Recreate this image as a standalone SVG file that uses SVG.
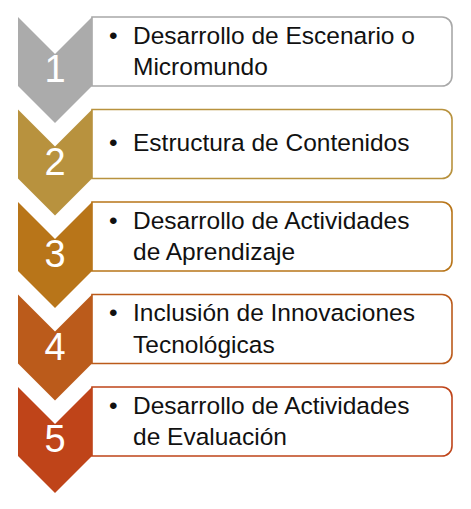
<svg xmlns="http://www.w3.org/2000/svg" width="471" height="509" viewBox="0 0 471 509">
<style>
.box{fill:#fff;stroke-width:1.6}
.txt{font-family:"Liberation Sans",Arial,sans-serif;font-size:24.5px;fill:#111}
.num{font-family:"Liberation Sans",Arial,sans-serif;font-size:38px;fill:#fff;text-anchor:middle}
</style>
<defs>
<path id="chev" d="M18 0 L55 37 L92 0 L92 69 L55 106 L18 69 Z"/>
<path id="boxp" d="M92 0 H442 A10 10 0 0 1 452 10 V59 A10 10 0 0 1 442 69 H92 Z"/>
</defs>
<rect width="471" height="509" fill="#fff"/>
<g id="node1" transform="translate(0,17)">
<use href="#boxp" class="box" stroke="#A8A8A8"/>
<use href="#chev" fill="#ABABAB"/>
<text class="num" x="55" y="65">1</text>
<text class="txt" x="109" y="26.5">•</text>
<text class="txt" x="133" y="26.5">Desarrollo de Escenario o</text>
<text class="txt" x="133" y="58">Micromundo</text>
</g>
<g id="node2" transform="translate(0,109.5)">
<use href="#boxp" class="box" stroke="#B8923E"/>
<use href="#chev" fill="#B8923E"/>
<text class="num" x="55" y="65">2</text>
<text class="txt" x="109" y="41">•</text>
<text class="txt" x="133" y="41">Estructura de Contenidos</text>
</g>
<g id="node3" transform="translate(0,202)">
<use href="#boxp" class="box" stroke="#B87519"/>
<use href="#chev" fill="#B87519"/>
<text class="num" x="55" y="65">3</text>
<text class="txt" x="109" y="26.5">•</text>
<text class="txt" x="133" y="26.5">Desarrollo de Actividades</text>
<text class="txt" x="133" y="58">de Aprendizaje</text>
</g>
<g id="node4" transform="translate(0,294.5)">
<use href="#boxp" class="box" stroke="#BB5B1B"/>
<use href="#chev" fill="#BB5B1B"/>
<text class="num" x="55" y="65">4</text>
<text class="txt" x="109" y="26.5">•</text>
<text class="txt" x="133" y="26.5">Inclusión de Innovaciones</text>
<text class="txt" x="133" y="58">Tecnológicas</text>
</g>
<g id="node5" transform="translate(0,387)">
<use href="#boxp" class="box" stroke="#BF4419"/>
<use href="#chev" fill="#BF4419"/>
<text class="num" x="55" y="65">5</text>
<text class="txt" x="109" y="26.5">•</text>
<text class="txt" x="133" y="26.5">Desarrollo de Actividades</text>
<text class="txt" x="133" y="58">de Evaluación</text>
</g>
<g id="connectors"/>
</svg>
